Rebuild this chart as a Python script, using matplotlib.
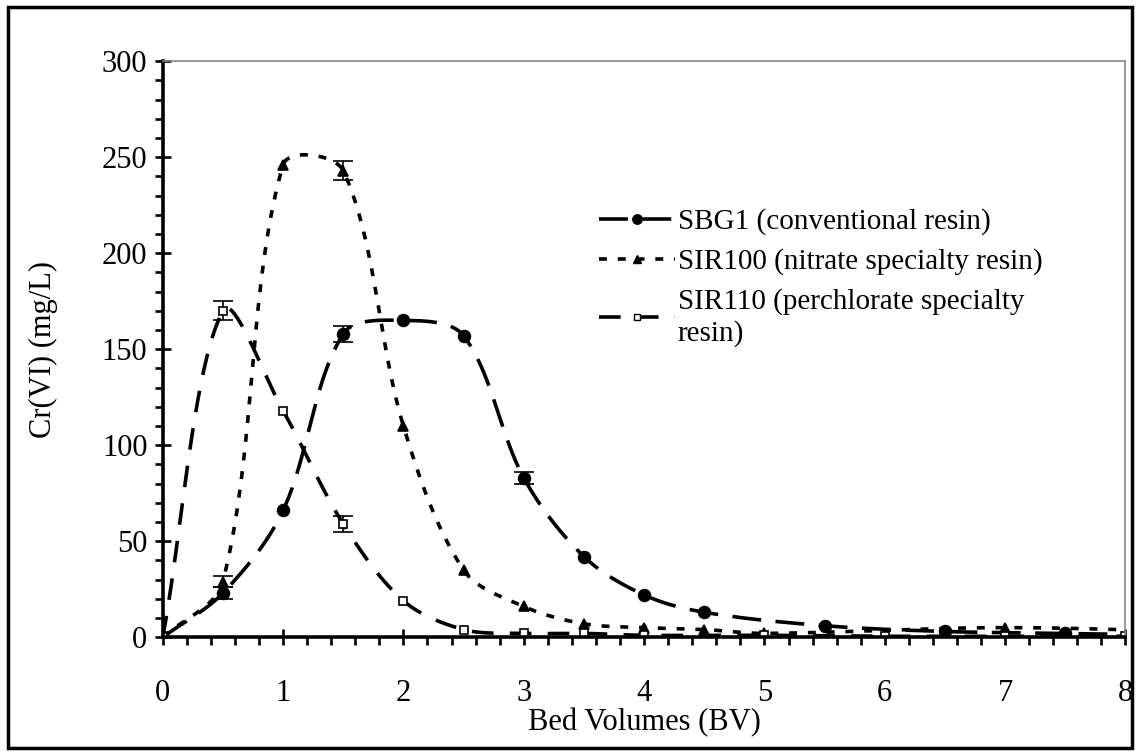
import matplotlib.pyplot as plt
import numpy as np
from matplotlib.patches import Rectangle
from matplotlib.ticker import MultipleLocator

plt.rcParams["font.family"] = ["Liberation Serif", "DejaVu Serif"]

# data
sbg1_x = [0, 0.5, 1, 1.5, 2, 2.5, 3, 3.5, 4, 4.5, 5.5, 6.5, 7.5, 8.5]
sbg1_y = [0, 23, 66, 158, 165, 157, 83, 42, 22, 13, 6, 3, 2, 1]
sbg1_err = [0, 3, 0, 4, 0, 0, 3, 0, 0, 0, 0, 0, 0, 0]

sir100_x = [0, 0.5, 1, 1.5, 2, 2.5, 3, 3.5, 4, 4.5, 5, 7, 9]
sir100_y = [0, 29, 246, 243, 110, 35, 16, 7, 5, 4, 2, 5, 2]
sir100_err = [0, 3, 0, 5, 0, 0, 0, 0, 0, 0, 0, 0, 0]

sir110_x = [0, 0.5, 1, 1.5, 2, 2.5, 3, 3.5, 4, 5, 6, 7, 8]
sir110_y = [0, 170, 118, 59, 19, 4, 2, 2, 1, 1, 0.5, 0.5, 0.5]
sir110_err = [0, 5, 0, 4, 0, 0, 0, 0, 0, 0, 0, 0, 0]

labels = [
    "SBG1 (conventional resin)",
    "SIR100 (nitrate specialty resin)",
    "SIR110 (perchlorate specialty\nresin)",
]

# rough pixel scale, so the smoothing works in screen space like Excel
PX_X, PX_Y = 120.0, 1.92


def smooth(xs, ys, n=40):
    # chord weighted bezier through the points (Excel style smoothed line)
    pts = np.column_stack([np.asarray(xs, float), np.asarray(ys, float)])
    pts = np.vstack([pts[:1], pts, pts[-1:]])
    scale = np.array([PX_X, PX_Y])
    t = np.linspace(0, 1, n)[:, None]
    out = []
    for i in range(1, len(pts) - 2):
        p0, p1, p2, p3 = pts[i - 1], pts[i], pts[i + 1], pts[i + 2]
        d01 = np.linalg.norm((p1 - p0) * scale)
        d12 = np.linalg.norm((p2 - p1) * scale)
        d23 = np.linalg.norm((p3 - p2) * scale)
        b1 = p1 + (p2 - p0) * d12 / (d01 + d12) / 3
        b2 = p2 - (p3 - p1) * d12 / (d12 + d23) / 3
        seg = ((1 - t) ** 3) * p1 + 3 * (1 - t) ** 2 * t * b1 \
            + 3 * (1 - t) * t ** 2 * b2 + t ** 3 * p2
        out.append(seg)
    out = np.vstack(out)
    return out[:, 0], out[:, 1]


fig = plt.figure(figsize=(11.38, 7.55), dpi=100)
ax = fig.add_axes([0.143, 0.156, 0.846, 0.763])

series = [
    (sbg1_x, sbg1_y, sbg1_err, "o", 8.5, "black", (0, (8, 4))),
    (sir100_x, sir100_y, sir100_err, "^", 7.5, "black", (0, (2.2, 3))),
    (sir110_x, sir110_y, sir110_err, "s", 6, "white", (0, (6, 4.5))),
]

handles = []
for (xs, ys, err, marker, ms, fc, ls), label in zip(series, labels):
    sx, sy = smooth(xs, ys)
    ax.plot(sx, sy, color="black", lw=2.6, linestyle=ls)
    errs = np.array(err, float)
    mask = errs > 0
    ax.errorbar(np.array(xs)[mask], np.array(ys)[mask], yerr=errs[mask],
                fmt="none", ecolor="black", elinewidth=1.2, capsize=7,
                capthick=1.2)
    ax.plot(xs, ys, linestyle="none", marker=marker, ms=ms,
            markerfacecolor=fc, markeredgecolor="black", markeredgewidth=1.2)
    (h,) = ax.plot([], [], color="black", lw=2.6, linestyle=ls, marker=marker,
                   ms=ms * 0.8, markerfacecolor=fc, markeredgecolor="black")
    handles.append(h)

ax.set_xlim(0, 8)
ax.set_ylim(0, 300)
ax.xaxis.set_major_locator(MultipleLocator(1))
ax.xaxis.set_minor_locator(MultipleLocator(0.2))
ax.yaxis.set_major_locator(MultipleLocator(50))
ax.yaxis.set_minor_locator(MultipleLocator(10))

ax.tick_params(which="major", direction="inout", length=12, width=1.9,
               labelsize=22)
ax.tick_params(which="minor", direction="out", length=6, width=1.9)
ax.tick_params(axis="x", which="major", pad=24)
ax.tick_params(axis="y", which="major", pad=5)

for side in ("left", "bottom"):
    ax.spines[side].set_linewidth(2.6)
for side in ("top", "right"):
    ax.spines[side].set_color("#888888")
    ax.spines[side].set_linewidth(1.2)

ax.set_xlabel("Bed Volumes (BV)", fontsize=22)
ax.set_ylabel("Cr(VI) (mg/L)", fontsize=22)
ax.xaxis.set_label_coords(0.5, -0.122)
ax.yaxis.set_label_coords(-0.109, 0.5)

ax.legend(handles, labels, loc="upper left", bbox_to_anchor=(0.426, 0.79),
          frameon=False, fontsize=21, handlelength=2.6, handletextpad=0.1,
          labelspacing=0.45)

fig.patches.append(Rectangle((0.007, 0.009), 0.988, 0.982,
                             transform=fig.transFigure, fill=False,
                             edgecolor="black", linewidth=2.5))

fig.savefig("out.png", dpi=100)
